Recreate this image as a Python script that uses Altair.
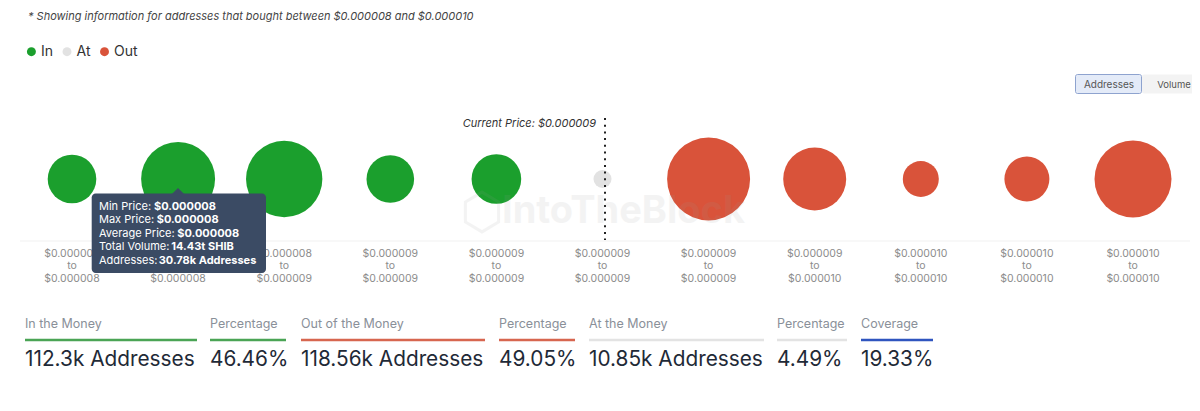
import altair as alt
import pandas as pd

# ---------------- data ----------------
range_lo = ["$0.000008", "$0.000008", "$0.000008", "$0.000009", "$0.000009", "$0.000009",
            "$0.000009", "$0.000009", "$0.000010", "$0.000010", "$0.000010"]
range_hi = ["$0.000008", "$0.000008", "$0.000009", "$0.000009", "$0.000009", "$0.000009",
            "$0.000009", "$0.000010", "$0.000010", "$0.000010", "$0.000010"]
status = ["In", "In", "In", "In", "In", "At", "Out", "Out", "Out", "Out", "Out"]
addresses_k = [16.40, 30.78, 32.30, 15.90, 16.92, 10.85, 36.60, 24.20, 10.45, 14.61, 32.70]

current_price_label = "Current Price: $0.000009"
current_idx = [5]

note_text = "* Showing information for addresses that bought between $0.000008 and $0.000010"
legend_names = ["In", "At", "Out"]

tip_labels = ["Min Price:", "Max Price:", "Average Price:", "Total Volume:", "Addresses:"]
tip_values = ["$0.000008", "$0.000008", "$0.000008", "14.43t SHIB", "30.78k Addresses"]

stat_headers = ["In the Money", "Percentage", "Out of the Money", "Percentage",
                "At the Money", "Percentage", "Coverage"]
stat_values = ["112.3k Addresses", "46.46%", "118.56k Addresses", "49.05%",
               "10.85k Addresses", "4.49%", "19.33%"]

# ---------------- styles / layout ----------------
GREEN = "#1b9f2d"
GRAY = "#e2e2e2"
RED = "#d9533a"
FONT = "Inter"
stat_line_colors = ["#4aa455", "#4aa455", "#d7664f", "#d7664f", "#e3e3e3", "#e3e3e3", "#2f55bf"]
stat_x0 = [17, 202, 293, 491, 581, 769, 853]
stat_x1 = [189, 278, 477, 567, 756, 839, 925]
tip_x_val = [146, 148.7, 169.3, 163.3, 150.7]
tip_y = [198.7, 212.3, 225.8, 239.4, 253]
legend_dot_x = [23.4, 59, 96.5]
legend_txt_x = [33, 68.5, 106]

W, H = 1184, 395

df = pd.DataFrame({
    "idx": list(range(len(status))),
    "status": status,
    "addresses": addresses_k,
    "label": [f"{a}\nto\n{b}" for a, b in zip(range_lo, range_hi)],
})

one = pd.DataFrame({"k": [0]})

xs = alt.X("idx:Q", scale=alt.Scale(domain=[0, 10], range=[64, 1125]), axis=None)
color = alt.Color("status:N", scale=alt.Scale(domain=legend_names, range=[GREEN, GRAY, RED]), legend=None)

layers = []

# base line under bubbles
layers.append(alt.Chart(one).mark_rule(color="#f1f1f1", strokeWidth=1).encode(
    x=alt.value(12), x2=alt.value(1182), y=alt.value(233)))

# bubbles
layers.append(alt.Chart(df).transform_filter("datum.status != 'At'").mark_circle(opacity=1).encode(
    x=xs, y=alt.value(171),
    size=alt.Size("addresses:Q", scale=alt.Scale(type="pow", exponent=4 / 3, domain=[0, 36.6], range=[0, 6889]), legend=None),
    color=color,
    tooltip=[alt.Tooltip("addresses:Q", title="Addresses (k)")],
))
layers.append(alt.Chart(df).transform_filter("datum.status == 'At'").mark_circle(opacity=1, size=324).encode(
    x=xs, y=alt.value(171), color=color,
    tooltip=[alt.Tooltip("addresses:Q", title="Addresses (k)")],
))

# x labels
layers.append(alt.Chart(df).mark_text(lineBreak="\n", font=FONT, fontSize=10.5, color="#8c8c8c",
                                      baseline="top", align="center", lineHeight=12.6).encode(
    x=xs, y=alt.value(240.5), text="label:N"))

# current price dotted line
layers.append(alt.Chart(pd.DataFrame({"idx": current_idx})).mark_rule(
    color="#222222", strokeWidth=2, strokeDash=[2, 4.7], xOffset=2.5).encode(
    x=xs, y=alt.value(110), y2=alt.value(232)))
layers.append(alt.Chart(one).mark_text(text=current_price_label, font=FONT, fontStyle="italic",
                                       fontSize=11, color="#333333", align="right", baseline="middle").encode(
    x=alt.value(588), y=alt.value(116)))

# watermark
layers.append(alt.Chart(one).mark_text(text="IntoTheBlock", font=FONT, fontWeight="bold", fontSize=38,
                                       color="#9a9a9a", opacity=0.11, align="left", baseline="middle").encode(
    x=alt.value(494), y=alt.value(204)))
layers.append(alt.Chart(one).mark_point(shape="M-1,-0.6L0,-1.2L1,-0.6L1,0.6L0,1.2L-1,0.6Z", size=1100,
                                        color="#9a9a9a", opacity=0.11, strokeWidth=3, filled=False).encode(
    x=alt.value(474), y=alt.value(204)))

# note
layers.append(alt.Chart(one).mark_text(text=note_text, font=FONT, fontStyle="italic", fontSize=11,
                                       color="#444444", align="left", baseline="middle").encode(
    x=alt.value(20), y=alt.value(8.7)))

# legend
for name, dx, tx, c in zip(legend_names, legend_dot_x, legend_txt_x, [GREEN, GRAY, RED]):
    layers.append(alt.Chart(one).mark_circle(size=80, opacity=1, color=c).encode(
        x=alt.value(dx), y=alt.value(43.7)))
    layers.append(alt.Chart(one).mark_text(text=name, font=FONT, fontSize=14, color="#333333",
                                           align="left", baseline="middle").encode(
        x=alt.value(tx), y=alt.value(43.7)))

# buttons
layers.append(alt.Chart(one).mark_rect(fill="#e4ebf8", stroke="#8ea3cf", strokeWidth=1, cornerRadius=2).encode(
    x=alt.value(1067.5), x2=alt.value(1133.5), y=alt.value(66.5), y2=alt.value(85.5)))
layers.append(alt.Chart(one).mark_rect(fill="#f3f3f3", cornerRadius=2).encode(
    x=alt.value(1134), x2=alt.value(1187), y=alt.value(66.5), y2=alt.value(85.5)))
layers.append(alt.Chart(one).mark_text(text="Addresses", font=FONT, fontSize=10, color="#555555",
                                       align="center", baseline="middle").encode(x=alt.value(1101), y=alt.value(76.5)))
layers.append(alt.Chart(one).mark_text(text="Volume", font=FONT, fontSize=9.5, color="#555555",
                                       align="center", baseline="middle").encode(x=alt.value(1166), y=alt.value(76.5)))

# tooltip box
layers.append(alt.Chart(one).mark_rect(fill="#3b4b64", cornerRadius=4).encode(
    x=alt.value(83.7), x2=alt.value(258), y=alt.value(185.5), y2=alt.value(265)))
layers.append(alt.Chart(one).mark_point(shape="M-1,1L0,0L1,1Z", size=150, filled=True, color="#3b4b64",
                                        opacity=1).encode(x=alt.value(170), y=alt.value(180)))
for lab, val, vx, ty in zip(tip_labels, tip_values, tip_x_val, tip_y):
    layers.append(alt.Chart(one).mark_text(text=lab, font=FONT, fontSize=11, color="#ffffff",
                                           align="left", baseline="middle").encode(x=alt.value(91), y=alt.value(ty)))
    layers.append(alt.Chart(one).mark_text(text=val, font=FONT, fontSize=11, fontWeight="bold", color="#ffffff",
                                           align="left", baseline="middle").encode(x=alt.value(vx), y=alt.value(ty)))

# stats
for h, v, c, x0, x1 in zip(stat_headers, stat_values, stat_line_colors, stat_x0, stat_x1):
    layers.append(alt.Chart(one).mark_text(text=h, font=FONT, fontSize=12.5, color="#8a9099",
                                           align="left", baseline="middle").encode(x=alt.value(x0), y=alt.value(316)))
    layers.append(alt.Chart(one).mark_rule(color=c, strokeWidth=2.5).encode(
        x=alt.value(x0), x2=alt.value(x1), y=alt.value(332)))
    layers.append(alt.Chart(one).mark_text(text=v, font=FONT, fontSize=20.8, color="#1f2a37",
                                           align="left", baseline="middle").encode(x=alt.value(x0), y=alt.value(352)))

chart = alt.layer(*layers).properties(
    width=W, height=H, padding=0, autosize="none", background="white"
).configure_view(stroke=None)

chart.save("out.html", embed_options={"renderer": "svg", "actions": False})
